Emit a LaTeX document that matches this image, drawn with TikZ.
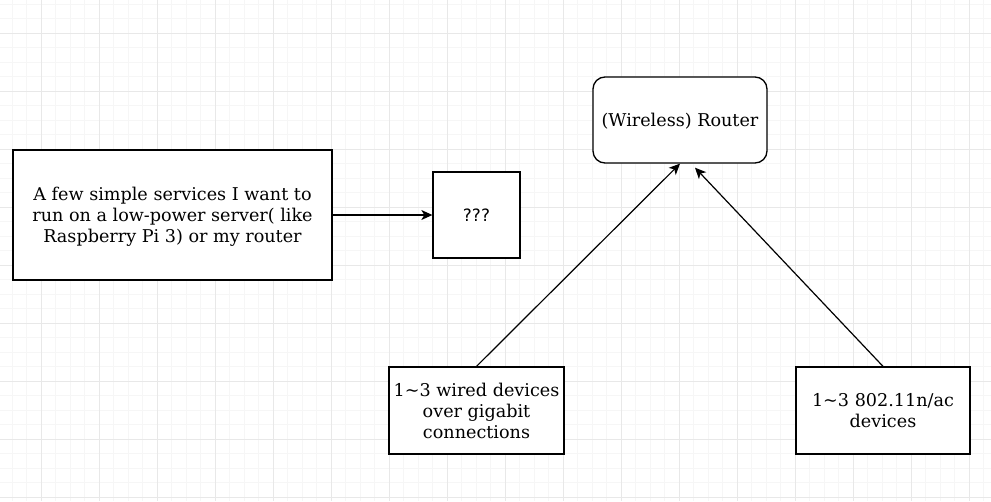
\documentclass[tikz,border=0pt]{standalone}
\usepackage{fontspec}
\setmainfont{DejaVu Serif}
\newfontfamily\qfont{DejaVu Sans}
\definecolor{gridmajor}{RGB}{232,232,232}
\definecolor{gridminor}{RGB}{246,246,246}
\usetikzlibrary{arrows.meta,positioning}

\begin{document}
\begin{tikzpicture}[x=1pt, y=-1pt,
        box/.style={rectangle, draw=black, line width=1.3pt, fill=white,
                    align=center, inner sep=2pt, text depth=-7pt,
                    font=\fontsize{17.6}{21}\selectfont},
        harr/.style={-{Stealth[length=11pt, width=10pt, inset=3pt]}, line width=1.2pt}
      ]
        \useasboundingbox (0,0) rectangle (991,501);
        \fill[white] (0,0) rectangle (991,501);

        % background grid
        \foreach \k in {0,...,67}
          \draw[gridminor, line width=0.8pt] (12+\k*14.5,0) -- (12+\k*14.5,501);
        \foreach \k in {0,...,34}
          \draw[gridminor, line width=0.8pt] (0,4+\k*14.5) -- (991,4+\k*14.5);
        \foreach \k in {0,...,16}
          \draw[gridmajor, line width=0.9pt] (41+\k*58,0) -- (41+\k*58,501);
        \foreach \k in {0,...,8}
          \draw[gridmajor, line width=0.9pt] (0,33+\k*58) -- (991,33+\k*58);

        \node[box, minimum width=319pt, minimum height=130pt] (svc) at (172.5,215)
          {A few simple services I want to\\run on a low-power server( like\\Raspberry Pi 3) or my router};
        \node[box, minimum width=87pt, minimum height=86pt, font=\qfont\fontsize{17}{20}\selectfont]
          (unk) at (476.5,215) {???};
        \node[box, rounded corners=12pt, minimum width=174pt, minimum height=86pt]
          (router) at (680,120) {(Wireless) Router};
        \node[box, minimum width=175pt, minimum height=87pt] (wired) at (476.5,410.5)
          {1\textasciitilde3 wired devices\\over gigabit\\connections};
        \node[box, minimum width=174pt, minimum height=87pt] (wifi) at (883,410.5)
          {1\textasciitilde3 802.11n/ac\\devices};

        \coordinate (rtin) at ([xshift=15pt, yshift=-4pt]router.south);

        \draw[harr] (svc.east)    -- (unk.west);
        \draw[harr] (wired.north) -- (router.south);
        \draw[harr] (wifi.north)  -- (rtin);
      \end{tikzpicture}
\end{document}
